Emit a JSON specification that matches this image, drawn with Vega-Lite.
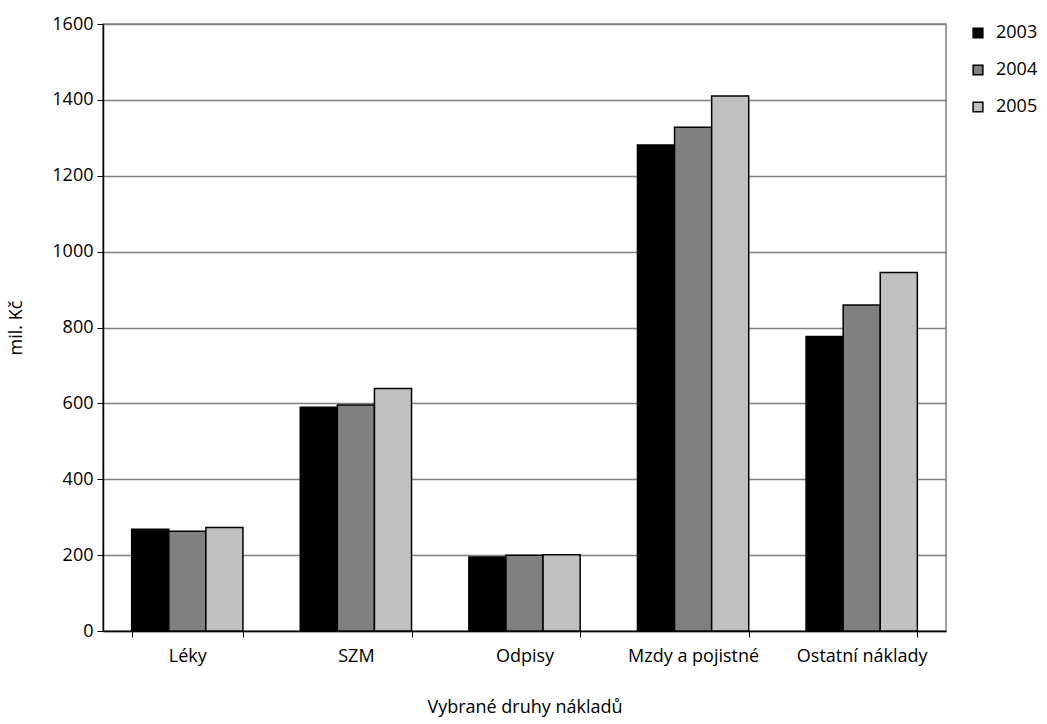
{
  "$schema": "https://vega.github.io/schema/vega-lite/v6.json",
  "width": 843,
  "height": 607,
  "autosize": "none",
  "padding": {"left": 103, "top": 24, "right": 101, "bottom": 93},
  "background": "white",
  "config": {
    "font": "Open Sans",
    "view": {"stroke": "#808080", "strokeWidth": 1.5},
    "axis": {"labelFont": "Open Sans", "titleFont": "Open Sans", "labelFontSize": 18, "titleFontSize": 18, "titleFontWeight": "normal", "labelColor": "black", "titleColor": "black"},
    "legend": {"labelFont": "Open Sans", "labelFontSize": 18, "labelColor": "black"}
  },
  "data": {
    "values": [
      {"druh": "Léky", "rok": "2003", "hodnota": 268},
      {"druh": "Léky", "rok": "2004", "hodnota": 263},
      {"druh": "Léky", "rok": "2005", "hodnota": 273},
      {"druh": "SZM", "rok": "2003", "hodnota": 590},
      {"druh": "SZM", "rok": "2004", "hodnota": 596},
      {"druh": "SZM", "rok": "2005", "hodnota": 639},
      {"druh": "Odpisy", "rok": "2003", "hodnota": 195},
      {"druh": "Odpisy", "rok": "2004", "hodnota": 200},
      {"druh": "Odpisy", "rok": "2005", "hodnota": 201},
      {"druh": "Mzdy a pojistné", "rok": "2003", "hodnota": 1281},
      {"druh": "Mzdy a pojistné", "rok": "2004", "hodnota": 1328},
      {"druh": "Mzdy a pojistné", "rok": "2005", "hodnota": 1410},
      {"druh": "Ostatní náklady", "rok": "2003", "hodnota": 776},
      {"druh": "Ostatní náklady", "rok": "2004", "hodnota": 859},
      {"druh": "Ostatní náklady", "rok": "2005", "hodnota": 945}
    ]
  },
  "mark": {"type": "bar", "stroke": "black", "strokeWidth": 1.5},
  "encoding": {
    "x": {
      "field": "druh",
      "type": "nominal",
      "sort": ["Léky", "SZM", "Odpisy", "Mzdy a pojistné", "Ostatní náklady"],
      "scale": {"paddingInner": 0.34, "paddingOuter": 0.17},
      "axis": {
        "title": "Vybrané druhy nákladů",
        "titlePadding": 33,
        "labelAngle": 0,
        "labelPadding": 10,
        "domainColor": "black",
        "domainWidth": 1.5,
        "tickColor": "black",
        "tickBand": "extent",
        "tickSize": 6,
        "grid": false
      }
    },
    "xOffset": {"field": "rok", "type": "nominal"},
    "y": {
      "field": "hodnota",
      "type": "quantitative",
      "scale": {"domain": [0, 1600], "nice": false},
      "axis": {
        "title": "mil. Kč",
        "titlePadding": 26,
        "format": "d",
        "values": [0, 200, 400, 600, 800, 1000, 1200, 1400, 1600],
        "labelPadding": 4,
        "domainColor": "black",
        "domainWidth": 1.5,
        "tickColor": "black",
        "tickSize": 6,
        "gridColor": "#808080",
        "gridWidth": 1.5,
        "gridOpacity": 1
      }
    },
    "color": {
      "field": "rok",
      "type": "nominal",
      "scale": {"domain": ["2003", "2004", "2005"], "range": ["#000000", "#808080", "#c0c0c0"]},
      "legend": {
        "title": null,
        "orient": "none",
        "legendX": 866,
        "legendY": 0,
        "symbolType": "square",
        "symbolSize": 95,
        "symbolStrokeColor": "black",
        "symbolStrokeWidth": 1.5,
        "rowPadding": 19,
        "labelOffset": 9
      }
    }
  }
}
